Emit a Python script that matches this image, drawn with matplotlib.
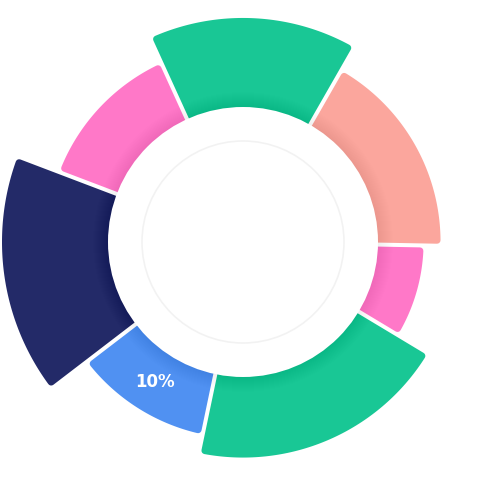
import numpy as np
import matplotlib
matplotlib.use("Agg")
import matplotlib.pyplot as plt
from matplotlib.patches import Polygon, Circle

# data
shares = [15.08, 17.03, 8.31, 19.67, 11.31, 16.19, 12.41]   # angular share (%)
magnitudes = [84, 59, 43, 76, 58, 100, 58]                   # radial magnitude
colors = ['#19c795', '#fba69d', '#ff78c8', '#19c795', '#5091f2', '#232a68', '#ff78c8']
labels = ['', '', '', '', '10%', '', '']

W = 486
fig = plt.figure(figsize=(W / 100, W / 100), dpi=100)
ax = fig.add_axes([0, 0, 1, 1])
ax.set_xlim(0, W)
ax.set_ylim(W, 0)
ax.set_aspect('equal')
ax.axis('off')

cx, cy = 243, 242
r_in = 135
r_scale = 1.06
start = -24.5
gap_half = 2.0
rc = 3.5
px2pt = 72 / 100


def pt(r, th):
    t = np.radians(th)
    return cx + r * np.sin(t), cy - r * np.cos(t)


def slice_poly(t1, t2, ri, ro, d):
    a_o = np.degrees(np.arcsin(d / ro))
    a_i = np.degrees(np.arcsin(d / ri))
    to = np.linspace(t1 + a_o, t2 - a_o, 80)
    ti = np.linspace(t2 - a_i, t1 + a_i, 80)
    xs, ys = [], []
    for t in to:
        x, y = pt(ro, t); xs.append(x); ys.append(y)
    for t in ti:
        x, y = pt(ri, t); xs.append(x); ys.append(y)
    return np.column_stack([xs, ys])


total = sum(shares)
t = start
for v, m, c, lab in zip(shares, magnitudes, colors, labels):
    span = v / total * 360
    t1, t2 = t, t + span
    ro = r_in + m * r_scale
    poly = slice_poly(t1, t2, r_in - 10 + rc, ro - rc, gap_half + rc)
    ax.add_patch(Polygon(poly, closed=True, facecolor=c, edgecolor=c,
                         linewidth=2 * rc * px2pt, joinstyle='round', zorder=2))
    if lab:
        mx, my = pt((r_in + ro) / 2, (t1 + t2) / 2)
        ax.text(mx, my, lab, color='white', fontsize=12, fontweight='bold',
                family='DejaVu Sans', ha='center', va='center', zorder=6)
    t = t2

# soft shadow of the inner disc
for k in range(1, 16):
    ax.add_patch(Circle((cx, cy), r_in + k, facecolor='black', edgecolor='none',
                        alpha=0.0035, zorder=3))

ax.add_patch(Circle((cx, cy), r_in, facecolor='white', edgecolor='none', zorder=4))
ax.add_patch(Circle((cx, cy), 101, facecolor='none', edgecolor='#f2f2f2',
                    linewidth=1.6 * px2pt, zorder=5))

fig.savefig('out.png', dpi=100)
